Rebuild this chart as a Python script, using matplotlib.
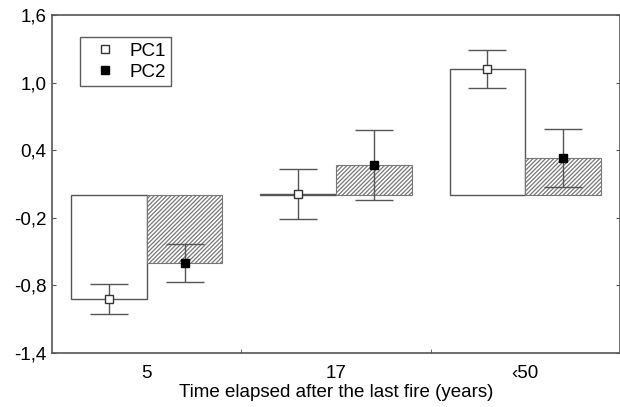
import matplotlib
matplotlib.use("Agg")
import matplotlib.pyplot as plt
import numpy as np

plt.rcParams['font.family'] = ['Liberation Sans', 'DejaVu Sans']
plt.rcParams['hatch.color'] = '#7a7a7a'
plt.rcParams['hatch.linewidth'] = 0.9

categories = ['5', '17', '\u203950']
pc1_mean = [-0.92, 0.01, 1.12]
pc1_err = [0.13, 0.22, 0.17]
pc2_mean = [-0.60, 0.27, 0.33]
pc2_err = [0.17, 0.31, 0.26]
yticks = [-1.4, -0.8, -0.2, 0.4, 1.0, 1.6]
ytick_labels = ['-1,4', '-0,8', '-0,2', '0,4', '1,0', '1,6']
xlabel = 'Time elapsed after the last fire (years)'
series_names = ['PC1', 'PC2']

fs = 13.5
fig = plt.figure(figsize=(6.2, 4.07), dpi=100)
ax = fig.add_axes([52/620, 1 - 353/407, (620 - 52)/620, (353 - 15)/407])

x = np.arange(len(categories))
w = 0.4
edge = '#555555'
ax.bar(x - w/2, pc1_mean, width=w, color='white', edgecolor=edge, linewidth=1.0, zorder=2)
ax.bar(x + w/2, pc2_mean, width=w, color='white', edgecolor='#777777', linewidth=0.8,
       hatch='////////', zorder=2)
ax.errorbar(x - w/2, pc1_mean, yerr=pc1_err, fmt='none', ecolor=edge, elinewidth=1.0,
            capsize=14, capthick=1.0, zorder=3)
ax.errorbar(x + w/2, pc2_mean, yerr=pc2_err, fmt='none', ecolor=edge, elinewidth=1.0,
            capsize=14, capthick=1.0, zorder=3)
ax.plot(x - w/2, pc1_mean, 's', ms=5.5, mfc='white', mec='#333333', mew=1.0, ls='none',
        zorder=4, label=series_names[0])
ax.plot(x + w/2, pc2_mean, 's', ms=6, mfc='black', mec='black', ls='none',
        zorder=4, label=series_names[1])

ax.set_xlim(-0.5, 2.5)
ax.set_ylim(-1.4, 1.6)
ax.set_yticks(yticks)
ax.set_yticklabels(ytick_labels, fontsize=fs)
ax.set_xticks(x)
ax.set_xticklabels(categories, fontsize=fs)
ax.set_xticks([0.5, 1.5], minor=True)
ax.tick_params(axis='x', which='major', length=0, pad=9)
ax.tick_params(axis='x', which='minor', direction='in', length=3, color=edge)
ax.tick_params(axis='y', direction='in', length=3, color=edge, pad=4, right=True)
ax.set_xlabel(xlabel, fontsize=fs, labelpad=1)
for s in ax.spines.values():
    s.set_color(edge)
    s.set_linewidth(1.2)

leg = ax.legend(loc='upper left', bbox_to_anchor=(0.05, 0.935), fontsize=fs,
                frameon=True, fancybox=False, edgecolor='#333333', handlelength=2.0,
                handletextpad=0.3, borderpad=0.3, labelspacing=0.2, borderaxespad=0)
leg.get_frame().set_linewidth(1.0)

fig.savefig('out.png', dpi=100)
